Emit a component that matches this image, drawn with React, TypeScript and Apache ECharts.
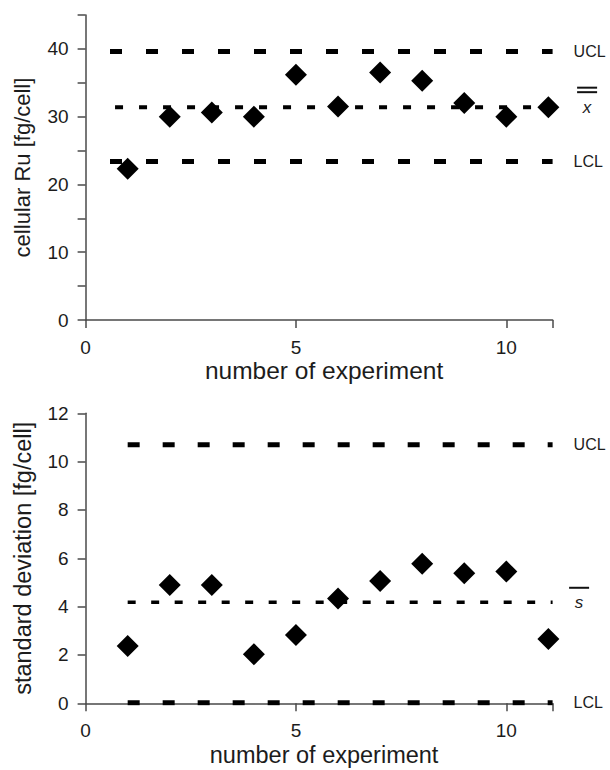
import React, { useEffect, useRef } from "react";
import * as echarts from "echarts";

// ---- data ----
const experiments = [1, 2, 3, 4, 5, 6, 7, 8, 9, 10, 11];
const cellularRu = [22.3, 30.0, 30.6, 30.0, 36.2, 31.5, 36.5, 35.3, 32.0, 30.0, 31.4];
const stdDeviation = [2.37, 4.9, 4.9, 2.03, 2.83, 4.34, 5.06, 5.77, 5.38, 5.45, 2.66];
const limitNames = ["UCL", "mean", "LCL"];
const ruLimits = [39.6, 31.4, 23.4];
const sdLimits = [10.7, 4.18, 0.02];
const ruLimitStarts = [0.58, 0.7, 0.58];
const sdLimitStarts = [1.0, 1.0, 1.0];
const limitEnd = 11.1;
const ruTicks = [0, 10, 20, 30, 40];
const sdTicks = [0, 2, 4, 6, 8, 10, 12];
const xTicks = [0, 5, 10];

const FONT = "'Liberation Sans', Arial, Helvetica, sans-serif";
const TXT = "#1c1c1c";
const AX = "#4a4a4a";

export default function App() {
  const ref = useRef<HTMLDivElement>(null);
  useEffect(() => {
    if (!ref.current) return;
    const chart = echarts.init(ref.current, undefined, { renderer: "svg" });

    const xAxisBase = (gridIndex: number, nameSize: number, nameGap: number) => ({
      type: "value",
      gridIndex,
      min: 0,
      max: 11.1,
      interval: 5,
      name: "number of experiment",
      nameLocation: "middle",
      nameGap,
      nameTextStyle: { fontSize: nameSize, color: TXT, fontFamily: FONT, padding: [0, 0, 0, 10] },
      axisLine: { show: true, onZero: false, lineStyle: { color: AX, width: 1.5 } },
      axisTick: { show: true, length: 8, lineStyle: { color: AX, width: 1.5 } },
      axisLabel: {
        fontSize: 19,
        color: TXT,
        fontFamily: FONT,
        margin: 18,
        formatter: (v: number) => (xTicks.includes(v) ? String(v) : ""),
      },
      splitLine: { show: false },
    });

    const yAxisBase = (
      gridIndex: number,
      max: number,
      interval: number,
      ticks: number[],
      name: string,
      nameSize: number,
      nameGap: number
    ) => ({
      type: "value",
      gridIndex,
      min: 0,
      max,
      interval,
      name,
      nameLocation: "middle",
      nameGap,
      nameTextStyle: { fontSize: nameSize, color: TXT, fontFamily: FONT },
      axisLine: { show: true, onZero: false, lineStyle: { color: AX, width: 1.5 } },
      axisTick: { show: true, length: 8, lineStyle: { color: AX, width: 1.5 } },
      axisLabel: {
        fontSize: 19,
        color: TXT,
        fontFamily: FONT,
        margin: 17,
        formatter: (v: number) => (ticks.includes(v) ? String(v) : ""),
      },
      splitLine: { show: false },
    });

    const limitSeries = (
      idx: number,
      limits: number[],
      starts: number[],
      thick: number[],
      thin: number[],
      thinW: number
    ) =>
      limits.map((v, i) => ({
        type: "line",
        xAxisIndex: idx,
        yAxisIndex: idx,
        name: limitNames[i],
        data: [
          [starts[i], v],
          [limitEnd, v],
        ],
        symbol: "none",
        silent: true,
        z: 1,
        lineStyle: {
          color: "#000",
          width: i === 1 ? thinW : 5,
          type: i === 1 ? thin : thick,
          cap: "butt",
        },
      }));

    chart.setOption({
      animation: false,
      backgroundColor: "#fff",
      grid: [
        { left: 85.6, top: 15, width: 467, height: 305 },
        { left: 85.6, top: 413.3, width: 467, height: 290 },
      ],
      xAxis: [xAxisBase(0, 24.5, 38), xAxisBase(1, 23.5, 40)],
      yAxis: [
        yAxisBase(0, 45, 5, ruTicks, "cellular Ru [fg/cell]", 22, 52),
        yAxisBase(1, 12, 2, sdTicks, "standard deviation [fg/cell]", 23.5, 51),
      ],
      series: [
        ...limitSeries(0, ruLimits, ruLimitStarts, [12, 24], [8, 16], 4),
        ...limitSeries(1, sdLimits, sdLimitStarts, [12, 23], [8, 15.5], 3.5),
        {
          type: "scatter",
          xAxisIndex: 0,
          yAxisIndex: 0,
          data: experiments.map((x, i) => [x, cellularRu[i]]),
          symbol: "diamond",
          symbolSize: 22,
          itemStyle: { color: "#000", opacity: 1 },
          z: 5,
        },
        {
          type: "scatter",
          xAxisIndex: 1,
          yAxisIndex: 1,
          data: experiments.map((x, i) => [x, stdDeviation[i]]),
          symbol: "diamond",
          symbolSize: 22,
          itemStyle: { color: "#000", opacity: 1 },
          z: 5,
        },
      ],
    });

    // Labels at the right end of the control-limit lines
    const graphics: any[] = [];
    const addLabels = (idx: number, limits: number[], meanSymbol: string) => {
      limits.forEach((v, i) => {
        const p = chart.convertToPixel({ xAxisIndex: idx, yAxisIndex: idx }, [limitEnd, v]) as number[];
        if (!p) return;
        if (i !== 1) {
          graphics.push({
            type: "text",
            x: p[0] + 21,
            y: p[1],
            style: {
              text: limitNames[i],
              fontSize: 16,
              fontFamily: FONT,
              fill: TXT,
              align: "left",
              verticalAlign: "middle",
            },
          });
        } else {
          const cx = p[0] + (meanSymbol === "x" ? 34.5 : 26.5);
          graphics.push({
            type: "text",
            x: cx,
            y: p[1],
            style: {
              text: meanSymbol,
              fontSize: 17,
              fontStyle: "italic",
              fontFamily: FONT,
              fill: TXT,
              align: "center",
              verticalAlign: "middle",
            },
          });
          const bars = meanSymbol === "x" ? [19.5, 15] : [14.5];
          bars.forEach((d) => {
            graphics.push({
              type: "rect",
              shape: { x: cx - 10, y: p[1] - d - 1, width: 20, height: 2 },
              style: { fill: "#111" },
            });
          });
        }
      });
    };
    addLabels(0, ruLimits, "x");
    addLabels(1, sdLimits, "s");
    chart.setOption({ graphic: graphics });

    return () => chart.dispose();
  }, []);

  return (
    <div
      ref={ref}
      style={{ position: "absolute", left: 0, top: 0, width: 610, height: 770, background: "#fff" }}
    />
  );
}
